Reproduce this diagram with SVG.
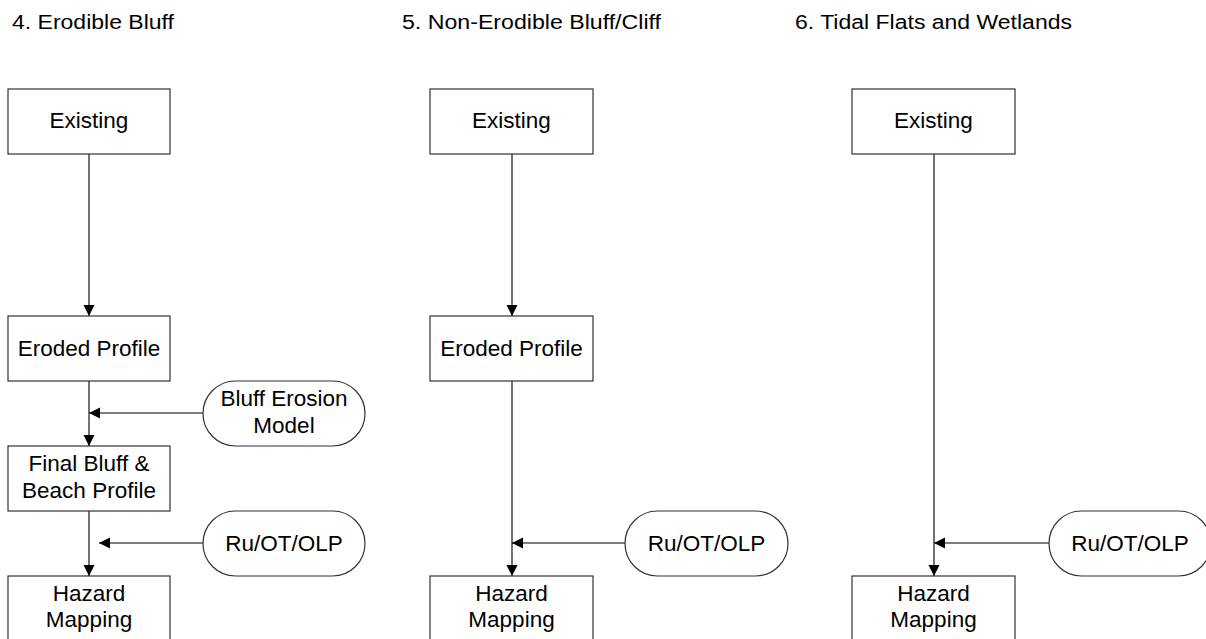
<svg xmlns="http://www.w3.org/2000/svg" width="1206" height="639" viewBox="0 0 1206 639">
<defs>
<style>
.box{fill:#fff;stroke:#333;stroke-width:1.2}
.pill{fill:#fff;stroke:#333;stroke-width:1.2}
.t{font-family:"Liberation Sans",Arial,sans-serif;font-size:22.5px;fill:#000;text-anchor:middle}
.title{font-family:"Liberation Sans",Arial,sans-serif;font-size:20px;fill:#000}
.c{fill:none;stroke:#444;stroke-width:1.5}
.h{fill:none;stroke:#000;stroke-width:1.2}
</style>
<marker id="ah" markerUnits="userSpaceOnUse" markerWidth="12" markerHeight="12" viewBox="0 0 12 12" refX="11" refY="6" orient="auto">
<path d="M0,0.5 L11,6 L0,11.5 Z" fill="#000"/>
</marker>
</defs>
<rect width="1206" height="639" fill="#fff"/>
<g id="titles">
<text class="title" x="12" y="29" textLength="162" lengthAdjust="spacingAndGlyphs">4. Erodible Bluff</text>
<text class="title" x="402" y="29" textLength="259" lengthAdjust="spacingAndGlyphs">5. Non-Erodible Bluff/Cliff</text>
<text class="title" x="795" y="29" textLength="277" lengthAdjust="spacingAndGlyphs">6. Tidal Flats and Wetlands</text>
</g>
<g id="connectors">
<line class="c" x1="89" y1="154" x2="89" y2="316" marker-end="url(#ah)"/>
<line class="c" x1="89" y1="381" x2="89" y2="446" marker-end="url(#ah)"/>
<line class="c" x1="89" y1="511" x2="89" y2="576" marker-end="url(#ah)"/>
<line class="h" x1="203" y1="413" x2="89" y2="413" marker-end="url(#ah)"/>
<line class="h" x1="203" y1="543" x2="99" y2="543" marker-end="url(#ah)"/>
<line class="c" x1="512" y1="154" x2="512" y2="316" marker-end="url(#ah)"/>
<line class="c" x1="512" y1="381" x2="512" y2="576" marker-end="url(#ah)"/>
<line class="h" x1="625" y1="543" x2="512" y2="543" marker-end="url(#ah)"/>
<line class="c" x1="934" y1="154" x2="934" y2="576" marker-end="url(#ah)"/>
<line class="h" x1="1049" y1="543" x2="934" y2="543" marker-end="url(#ah)"/>
</g>
<g id="n4-existing"><rect class="box" x="8" y="89" width="162" height="65"/><text class="t" x="89" y="128">Existing</text></g>
<g id="n4-eroded"><rect class="box" x="8" y="316" width="162" height="65"/><text class="t" x="89" y="355.5">Eroded Profile</text></g>
<g id="n4-bluffmodel"><rect class="pill" x="203" y="381" width="162" height="65" rx="32.5" ry="32.5"/><text class="t" x="284" y="405.5">Bluff Erosion</text><text class="t" x="284" y="433">Model</text></g>
<g id="n4-final"><rect class="box" x="8" y="446" width="162" height="65"/><text class="t" x="89" y="470.5">Final Bluff &amp;</text><text class="t" x="89" y="497.5">Beach Profile</text></g>
<g id="n4-ru"><rect class="pill" x="203" y="511" width="162" height="65" rx="32.5" ry="32.5"/><text class="t" x="284" y="551">Ru/OT/OLP</text></g>
<g id="n4-hazard"><rect class="box" x="8" y="576" width="162" height="90"/><text class="t" x="89" y="600.5">Hazard</text><text class="t" x="89" y="626.5">Mapping</text></g>
<g id="n5-existing"><rect class="box" x="430" y="89" width="163" height="65"/><text class="t" x="511.5" y="128">Existing</text></g>
<g id="n5-eroded"><rect class="box" x="430" y="316" width="163" height="65"/><text class="t" x="511.5" y="355.5">Eroded Profile</text></g>
<g id="n5-ru"><rect class="pill" x="625" y="511" width="163" height="65" rx="32.5" ry="32.5"/><text class="t" x="706.5" y="551">Ru/OT/OLP</text></g>
<g id="n5-hazard"><rect class="box" x="430" y="576" width="163" height="90"/><text class="t" x="511.5" y="600.5">Hazard</text><text class="t" x="511.5" y="626.5">Mapping</text></g>
<g id="n6-existing"><rect class="box" x="852" y="89" width="163" height="65"/><text class="t" x="933.5" y="128">Existing</text></g>
<g id="n6-ru"><rect class="pill" x="1049" y="511" width="162" height="65" rx="32.5" ry="32.5"/><text class="t" x="1130" y="551">Ru/OT/OLP</text></g>
<g id="n6-hazard"><rect class="box" x="852" y="576" width="163" height="90"/><text class="t" x="933.5" y="600.5">Hazard</text><text class="t" x="933.5" y="626.5">Mapping</text></g>
</svg>
